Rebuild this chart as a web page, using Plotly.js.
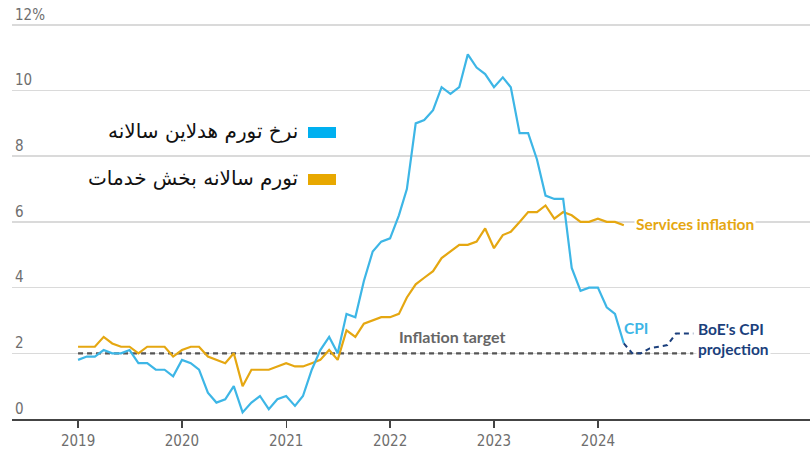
<!DOCTYPE html>
<html>
<head>
<meta charset="utf-8">
<script src="https://cdn.plot.ly/plotly-3.0.1.min.js"></script>
<style>html,body{margin:0;padding:0;background:#fff;}#chart{width:810px;height:452px;}</style>
</head>
<body>
<div id="chart"></div>
<script>
// ---- data ----
var months = [
 '2019-01-01','2019-02-01','2019-03-01','2019-04-01','2019-05-01','2019-06-01','2019-07-01','2019-08-01','2019-09-01','2019-10-01','2019-11-01','2019-12-01',
 '2020-01-01','2020-02-01','2020-03-01','2020-04-01','2020-05-01','2020-06-01','2020-07-01','2020-08-01','2020-09-01','2020-10-01','2020-11-01','2020-12-01',
 '2021-01-01','2021-02-01','2021-03-01','2021-04-01','2021-05-01','2021-06-01','2021-07-01','2021-08-01','2021-09-01','2021-10-01','2021-11-01','2021-12-01',
 '2022-01-01','2022-02-01','2022-03-01','2022-04-01','2022-05-01','2022-06-01','2022-07-01','2022-08-01','2022-09-01','2022-10-01','2022-11-01','2022-12-01',
 '2023-01-01','2023-02-01','2023-03-01','2023-04-01','2023-05-01','2023-06-01','2023-07-01','2023-08-01','2023-09-01','2023-10-01','2023-11-01','2023-12-01',
 '2024-01-01','2024-02-01','2024-03-01','2024-04-01'
];
var cpi = [
 1.8,1.9,1.9,2.1,2.0,2.0,2.1,1.7,1.7,1.5,1.5,1.3,
 1.8,1.7,1.5,0.8,0.5,0.6,1.0,0.2,0.5,0.7,0.3,0.6,
 0.7,0.4,0.7,1.5,2.1,2.5,2.0,3.2,3.1,4.2,5.1,5.4,
 5.5,6.2,7.0,9.0,9.1,9.4,10.1,9.9,10.1,11.1,10.7,10.5,
 10.1,10.4,10.1,8.7,8.7,7.9,6.8,6.7,6.7,4.6,3.9,4.0,
 4.0,3.4,3.2,2.3
];
var services = [
 2.2,2.2,2.2,2.5,2.3,2.2,2.2,2.0,2.2,2.2,2.2,1.9,
 2.1,2.2,2.2,1.9,1.8,1.7,2.0,1.0,1.5,1.5,1.5,1.6,
 1.7,1.6,1.6,1.7,1.8,2.1,1.8,2.7,2.5,2.9,3.0,3.1,
 3.1,3.2,3.7,4.1,4.3,4.5,4.9,5.1,5.3,5.3,5.4,5.8,
 5.2,5.6,5.7,6.0,6.3,6.3,6.5,6.1,6.3,6.2,6.0,6.0,
 6.1,6.0,6.0,5.9
];
var projMonths = ['2024-04-01','2024-05-01','2024-06-01','2024-07-01','2024-08-01','2024-09-01','2024-10-01','2024-11-01','2024-12-01'];
var projection = [2.3,2.0,2.0,2.15,2.2,2.25,2.6,2.6,2.6];
var targetMonths = ['2019-01-01','2024-12-01'];
var targetValues = [2,2];
var yTickVals = [0,2,4,6,8,10,12];
var yTickText = ['0','2','4','6','8','10','12%'];
var xTickVals = ['2019-01-01','2020-01-01','2021-01-01','2022-01-01','2023-01-01','2024-01-01'];
var xTickText = ['2019','2020','2021','2022','2023','2024'];
var legendLabels = ['نرخ تورم هدلاین سالانه','تورم سالانه بخش خدمات'];

var BLUE = '#3db6e6', GOLD = '#e5a711', NAVY = '#1b3f7c', GRAY = '#555555';
var tickFont = {family:'"Liberation Sans Narrow","DejaVu Sans Condensed",sans-serif', size:15, color:'#6e6e6e'};
var annFont = 'Lato, "Open Sans", sans-serif';

var traces = [
 {x:targetMonths, y:targetValues, mode:'lines', line:{color:GRAY, width:2.2, dash:'5px,4px'}, hoverinfo:'skip'},
 {x:months, y:services, mode:'lines', line:{color:GOLD, width:2.2}},
 {x:months, y:cpi, mode:'lines', line:{color:BLUE, width:2.2}},
 {x:projMonths, y:projection, mode:'lines', line:{color:NAVY, width:2, dash:'5px,4px'}}
];

var layout = {
 width:810, height:452,
 margin:{l:12, r:0, t:5, b:33},
 paper_bgcolor:'#fff', plot_bgcolor:'#fff',
 showlegend:false,
 xaxis:{type:'date', range:['2018-05-14','2026-01-15'], tickvals:xTickVals, ticktext:xTickText,
        showgrid:false, showline:true, linecolor:'#444', linewidth:1.5, ticks:'outside', ticklen:7, tickcolor:'#444', tickwidth:1.2,
        tickfont:tickFont, zeroline:false, fixedrange:true},
 yaxis:{range:[0,12.603], tickvals:yTickVals, ticktext:yTickText, ticklabelposition:'inside top',
        showgrid:true, gridcolor:'#dadada', gridwidth:1.5, zeroline:false, showline:false, ticks:'',
        tickfont:tickFont, fixedrange:true},
 shapes:[
  {type:'rect', xref:'paper', yref:'paper', x0:0.3709, x1:0.406, y0:0.6787, y1:0.7053, fillcolor:'#00b0f0', line:{width:0}},
  {type:'rect', xref:'paper', yref:'paper', x0:0.3709, x1:0.406, y0:0.5652, y1:0.5918, fillcolor:'#e8a800', line:{width:0}}
 ],
 annotations:[
  {xref:'paper', yref:'paper', x:0.3609, y:0.6957, xanchor:'right', yanchor:'middle', text:legendLabels[0], showarrow:false,
   font:{family:'"DejaVu Sans", sans-serif', size:20, color:'#111'}},
  {xref:'paper', yref:'paper', x:0.3609, y:0.5821, xanchor:'right', yanchor:'middle', text:legendLabels[1], showarrow:false,
   font:{family:'"DejaVu Sans", sans-serif', size:20, color:'#111'}},
  {x:'2024-05-06', y:5.95, xanchor:'left', yanchor:'middle', text:'Services inflation', showarrow:false, bgcolor:'#fff', borderpad:1,
   font:{family:annFont, size:15.5, color:GOLD, weight:700}},
  {x:'2022-08-07', y:2.5, xanchor:'center', yanchor:'middle', text:'Inflation target', showarrow:false,
   font:{family:annFont, size:16, color:'#666', weight:700}},
  {x:'2024-05-13', y:2.78, xanchor:'center', yanchor:'middle', text:'CPI', showarrow:false,
   font:{family:annFont, size:15.5, color:BLUE, weight:700}},
  {x:'2024-12-12', y:2.43, xanchor:'left', yanchor:'middle', align:'left', text:"BoE's CPI<br>projection", showarrow:false, bgcolor:'#fff', borderpad:1,
   font:{family:annFont, size:15.5, color:NAVY, weight:700}}
 ]
};

Plotly.newPlot('chart', traces, layout, {staticPlot:true, displayModeBar:false});
</script>
</body>
</html>
